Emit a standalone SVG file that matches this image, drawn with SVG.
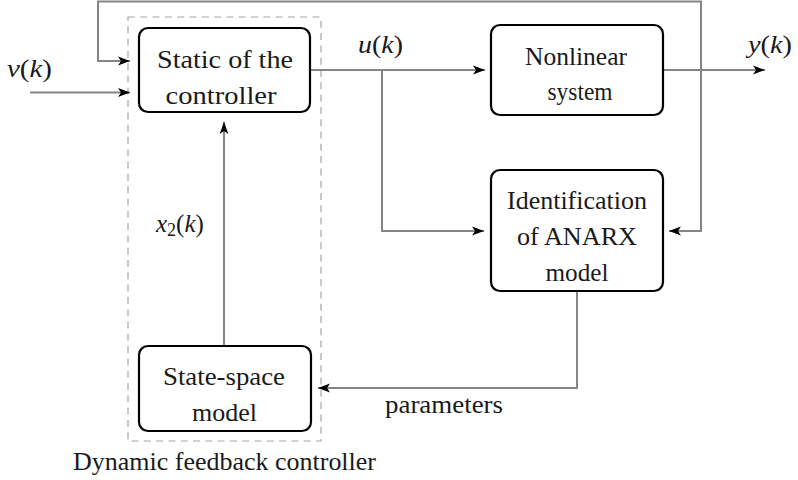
<svg xmlns="http://www.w3.org/2000/svg" width="798" height="480" viewBox="0 0 798 480">
  <defs>
    <!-- stealth-style arrowhead, tip at the path end -->
    <marker id="arrow" viewBox="0 0 12 10" refX="12" refY="5" markerWidth="12" markerHeight="10" markerUnits="userSpaceOnUse" orient="auto">
      <path d="M0,0.6 L12,5 L0,9.4 L3,5 Z" fill="#000"/>
    </marker>
    <style>
      .box { fill: #fff; stroke: #000; stroke-width: 2.2; }
      .frame { fill: none; stroke: #a6a6a6; stroke-width: 1.2; stroke-dasharray: 7 5.3; }
      .wire { fill: none; stroke: #858585; stroke-width: 2; marker-end: url(#arrow); }
    </style>
  </defs>

  <rect width="798" height="480" fill="#fff"/>

  <g font-size="25" fill="#1a1a1a">
  <!-- dashed frame around the controller -->
  <g id="dynamic-controller">
    <rect class="frame" x="128" y="17" width="193" height="424"/>
    <text font-family="Liberation Serif" text-anchor="middle" x="224.5" y="470" textLength="303" lengthAdjust="spacingAndGlyphs">Dynamic feedback controller</text>
  </g>

  <!-- connectors: grey wires, all ending in an arrowhead -->
  <g id="connectors">
    <path class="wire" d="M30,92.5 H130"/>
    <path class="wire" d="M701,70 V1.5 H98 V61 H130"/>
    <path class="wire" d="M701,1.5 V231 H669"/>
    <path class="wire" d="M310,70 H485"/>
    <path class="wire" d="M382,70 V231 H484"/>
    <path class="wire" d="M663,70 H765"/>
    <path class="wire" d="M577,291 V388 H318"/>
    <path class="wire" d="M224,346 V122"/>
  </g>

  <!-- signal labels -->
  <g id="labels">
    <text font-family="Liberation Serif" x="7" y="77" textLength="45" lengthAdjust="spacingAndGlyphs"><tspan font-style="italic">ν</tspan>(<tspan font-style="italic">k</tspan>)</text>
    <text font-family="Liberation Serif" x="358" y="53" textLength="45" lengthAdjust="spacingAndGlyphs"><tspan font-style="italic">u</tspan>(<tspan font-style="italic">k</tspan>)</text>
    <text font-family="Liberation Serif" x="748" y="53" textLength="44" lengthAdjust="spacingAndGlyphs"><tspan font-style="italic">y</tspan>(<tspan font-style="italic">k</tspan>)</text>
    <text font-family="Liberation Serif" x="156" y="232"><tspan font-style="italic">x</tspan><tspan font-size="18" dy="4">2</tspan><tspan dy="-4">(</tspan><tspan font-style="italic">k</tspan>)</text>
    <text font-family="Liberation Serif" text-anchor="middle" x="444" y="413" textLength="118" lengthAdjust="spacingAndGlyphs">parameters</text>
  </g>

  <g id="static-controller">
    <rect class="box" x="139" y="28" width="171" height="84" rx="9"/>
    <text font-family="Liberation Serif" text-anchor="middle" x="225" y="68" textLength="136" lengthAdjust="spacingAndGlyphs">Static of the</text>
    <text font-family="Liberation Serif" text-anchor="middle" x="221" y="104" textLength="111" lengthAdjust="spacingAndGlyphs">controller</text>
  </g>

  <g id="nonlinear-system">
    <rect class="box" x="491" y="25" width="172" height="90" rx="9"/>
    <text font-family="Liberation Serif" text-anchor="middle" x="576" y="65" textLength="102" lengthAdjust="spacingAndGlyphs">Nonlinear</text>
    <text font-family="Liberation Serif" text-anchor="middle" x="580" y="100" textLength="65" lengthAdjust="spacingAndGlyphs">system</text>
  </g>

  <g id="identification">
    <rect class="box" x="491" y="170" width="172" height="121" rx="9"/>
    <text font-family="Liberation Serif" text-anchor="middle" x="577" y="209" textLength="140" lengthAdjust="spacingAndGlyphs">Identification</text>
    <text font-family="Liberation Serif" text-anchor="middle" x="577" y="245" textLength="120" lengthAdjust="spacingAndGlyphs">of ANARX</text>
    <text font-family="Liberation Serif" text-anchor="middle" x="577" y="281" textLength="63" lengthAdjust="spacingAndGlyphs">model</text>
  </g>

  <g id="state-space">
    <rect class="box" x="139" y="346" width="172" height="85" rx="9"/>
    <text font-family="Liberation Serif" text-anchor="middle" x="224" y="385" textLength="122" lengthAdjust="spacingAndGlyphs">State-space</text>
    <text font-family="Liberation Serif" text-anchor="middle" x="224.5" y="421" textLength="65" lengthAdjust="spacingAndGlyphs">model</text>
  </g>
  </g>
</svg>
